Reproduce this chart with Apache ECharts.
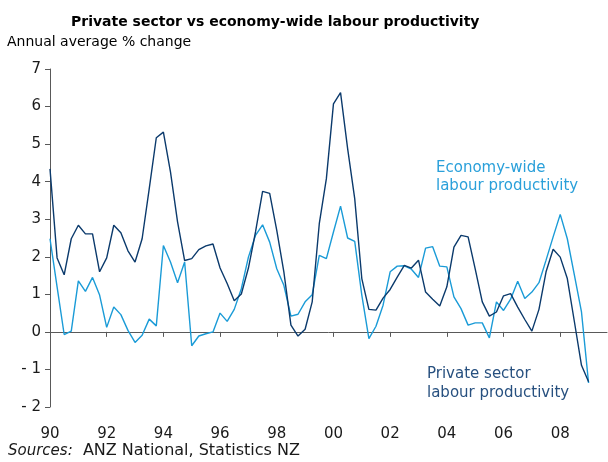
<!DOCTYPE html>
<html>
<head>
<meta charset="utf-8">
<script src="https://cdn.jsdelivr.net/npm/echarts@6/dist/echarts.min.js"></script>
<style>html,body{margin:0;padding:0;background:#fff}#c{width:608px;height:462px}</style>
</head>
<body>
<div id="c"></div>
<script>
// Quarterly data, starting 1990 Q1
const startYear = 1990;
const xTickYears = [1990, 1992, 1994, 1996, 1998, 2000, 2002, 2004, 2006, 2008];
const xTickLabels = ['90', '92', '94', '96', '98', '00', '02', '04', '06', '08'];
const yTicks = [-2, -1, 0, 1, 2, 3, 4, 5, 6, 7];
const privateSector = [
  4.34, 1.97, 1.52, 2.48, 2.84, 2.61, 2.61, 1.60, 1.97, 2.84,
  2.64, 2.16, 1.86, 2.48, 3.81, 5.17, 5.32, 4.26, 2.93, 1.90,
  1.95, 2.19, 2.29, 2.34, 1.70, 1.29, 0.83, 1.01, 1.70, 2.66,
  3.74, 3.69, 2.70, 1.60, 0.18, -0.11, 0.07, 0.80, 2.88, 4.08,
  6.07, 6.37, 4.88, 3.55, 1.42, 0.60, 0.58, 0.90, 1.13, 1.46,
  1.77, 1.70, 1.91, 1.06, 0.87, 0.69, 1.20, 2.26, 2.57, 2.53,
  1.68, 0.80, 0.42, 0.53, 0.96, 1.02, 0.66, 0.33, 0.02, 0.60,
  1.60, 2.20, 1.99, 1.42, 0.27, -0.89, -1.33
];
const economyWide = [
  2.48, 1.20, -0.07, 0.02, 1.36, 1.08, 1.45, 0.98, 0.12, 0.66,
  0.46, 0.04, -0.28, -0.09, 0.34, 0.16, 2.30, 1.86, 1.31, 1.86,
  -0.37, -0.11, -0.05, 0.00, 0.50, 0.28, 0.60, 1.15, 1.99, 2.57,
  2.85, 2.39, 1.68, 1.24, 0.42, 0.47, 0.80, 0.99, 2.04, 1.95,
  2.66, 3.35, 2.50, 2.41, 0.98, -0.18, 0.15, 0.71, 1.60, 1.75,
  1.76, 1.67, 1.45, 2.23, 2.27, 1.75, 1.73, 0.93, 0.62, 0.18,
  0.24, 0.24, -0.16, 0.80, 0.57, 0.87, 1.35, 0.89, 1.06, 1.31,
  1.91, 2.53, 3.13, 2.48, 1.51, 0.53, -1.36
];

const toPairs = arr => arr.map((v, i) => [startYear + i * 0.25, v]);
const FONT = 'DejaVu Sans, Verdana, sans-serif';
const AXIS_COLOR = '#595959';
const DARK = '#0b3a6c';
const LIGHT = '#1a9bd7';
const labelMap = {};
xTickYears.forEach((y, i) => labelMap[y] = xTickLabels[i]);

const chart = echarts.init(document.getElementById('c'), null, {renderer: 'canvas'});
chart.setOption({
  animation: false,
  backgroundColor: '#fff',
  title: {
    text: 'Private sector vs economy-wide labour productivity',
    left: 66, top: 10,
    textStyle: {fontFamily: FONT, fontSize: 14, fontWeight: 'bold', color: '#000'}
  },
  grid: {left: 50, right: 1, top: 69, bottom: 55, containLabel: false},
  xAxis: [{
    type: 'value', min: 1990, max: 2009.65, interval: 2,
    axisLine: {show: true, onZero: true, lineStyle: {color: AXIS_COLOR, width: 1}},
    axisTick: {show: true, inside: false, length: 5, customValues: xTickYears, lineStyle: {color: AXIS_COLOR}},
    axisLabel: {show: false},
    splitLine: {show: false}
  }, {
    type: 'value', min: 1990, max: 2009.65, interval: 2, position: 'bottom',
    axisLine: {show: false, onZero: false},
    axisTick: {show: false},
    axisLabel: {
      show: true, margin: 20, customValues: xTickYears,
      formatter: v => labelMap[Math.round(v)] || '',
      fontFamily: FONT, fontSize: 15, color: '#1a1a1a'
    },
    splitLine: {show: false}
  }],
  yAxis: {
    type: 'value', min: -2, max: 7, interval: 1,
    axisLine: {show: true, onZero: false, lineStyle: {color: AXIS_COLOR, width: 1}},
    axisTick: {show: true, inside: false, length: 5, lineStyle: {color: AXIS_COLOR}},
    axisLabel: {
      margin: 9, fontFamily: FONT, fontSize: 15, color: '#1a1a1a',
      formatter: v => v < 0 ? '- ' + Math.abs(v) : String(v)
    },
    splitLine: {show: false}
  },
  series: [{
    name: 'Private sector labour productivity',
    type: 'line', data: toPairs(privateSector), xAxisIndex: 0,
    showSymbol: false, symbol: 'none',
    lineStyle: {color: DARK, width: 1.4}, itemStyle: {color: DARK}, z: 3
  }, {
    name: 'Economy-wide labour productivity',
    type: 'line', data: toPairs(economyWide), xAxisIndex: 0,
    showSymbol: false, symbol: 'none',
    lineStyle: {color: LIGHT, width: 1.4}, itemStyle: {color: LIGHT}, z: 2
  }],
  graphic: [{
    type: 'text', left: 7, top: 35,
    style: {text: 'Annual average % change', fontFamily: FONT, fontSize: 14, fill: '#000'}
  }, {
    type: 'text', left: 436, top: 159,
    style: {text: 'Economy-wide\nlabour productivity', fontFamily: FONT, fontSize: 15, lineHeight: 18, fill: '#2aa0da'}
  }, {
    type: 'text', left: 427, top: 365,
    style: {text: 'Private sector\nlabour productivity', fontFamily: FONT, fontSize: 15, lineHeight: 19, fill: '#27507f'}
  }, {
    type: 'text', left: 8, top: 443,
    style: {
      text: '{i|Sources:}  ANZ National, Statistics NZ',
      fontFamily: FONT, fontSize: 16, fill: '#1a1a1a',
      rich: {i: {fontFamily: FONT, fontSize: 15, fontStyle: 'italic', fill: '#1a1a1a'}}
    }
  }]
});
</script>
</body>
</html>
